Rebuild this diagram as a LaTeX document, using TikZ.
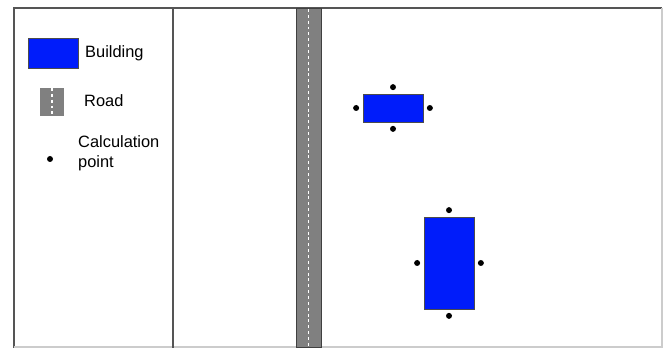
\documentclass[tikz,border=0pt]{standalone}
\usepackage{fontspec}
\setmainfont{Liberation Sans}
\usepackage{tikz}
\usetikzlibrary{positioning}
\definecolor{bldblue}{RGB}{0,28,250}
\definecolor{roadgray}{RGB}{128,128,128}
\definecolor{framegray}{RGB}{85,85,85}

\tikzset{
  building/.style={draw=black!70,line width=0.5pt,fill=bldblue,inner sep=0pt},
  calcpt/.style={circle,fill=black,inner sep=0pt,minimum size=0.18cm},
  legtext/.style={font=\fontsize{14}{17}\selectfont,align=left,anchor=west,inner sep=0pt},
  roadline/.style={white,line width=1.2pt,dash pattern=on 2.5pt off 2.5pt}
}

\begin{document}
\begin{tikzpicture}[x=0.03cm,y=-0.03cm]
    \useasboundingbox (0,0) rectangle (670,348);

    % Frame
    \draw[framegray,line width=1.3pt] (14,348) -- (14,8) -- (662,8);
    \draw[gray!40,line width=1pt] (662,8) -- (662,347) -- (14,347);
    \draw[framegray,line width=1.3pt] (173,8) -- (173,348);

    % Road
    \draw[fill=roadgray,draw=black!75,line width=0.8pt] (296,8) rectangle (321,347);
    \draw[roadline] (308.5,9) -- (308.5,346);

    % Legend
    \node[building,minimum width=1.5cm,minimum height=0.9cm] (legbld) at (53,53) {};
    \node[legtext] (legbldtxt) at (85,53) {Building};
    \fill[roadgray] (40,88) rectangle (64,116);
    \draw[roadline] (52,88) -- (52,116);
    \node[legtext] (legroadtxt) at (84,101) {Road};
    \node[calcpt] (legpt) at (50,159) {};
    \node[legtext] (legpttxt) at (78,153) {Calculation\\point};

    % Buildings
    \node[building,minimum width=1.8cm,minimum height=0.84cm] (b1) at (393,108) {};
    \node[building,minimum width=1.5cm,minimum height=2.76cm] (b2) at (449,263) {};

    % Calculation points
    \foreach \b in {b1,b2} {
        \node[calcpt,above=0.1cm of \b] (\b-n) {};
        \node[calcpt,below=0.1cm of \b] (\b-s) {};
        \node[calcpt,left=0.1cm of \b] (\b-w) {};
        \node[calcpt,right=0.1cm of \b] (\b-e) {};
    }
\end{tikzpicture}
\end{document}
